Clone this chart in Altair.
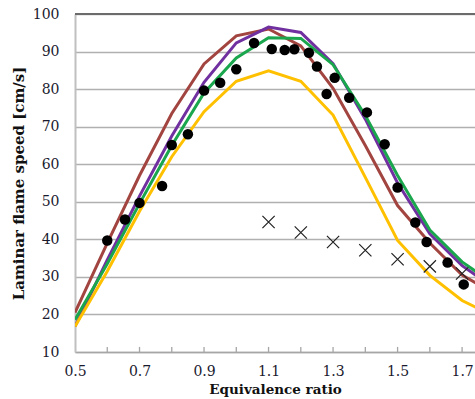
import altair as alt
import pandas as pd

# Model curves (equivalence ratio grid)
phi_grid = [0.5, 0.6, 0.7, 0.8, 0.9, 1.0, 1.1, 1.2, 1.3, 1.4, 1.5, 1.6, 1.7, 1.8]
brown = [20.5, 39.0, 57.0, 73.5, 86.7, 94.2, 96.0, 91.5, 80.2, 65.0, 49.0, 39.0, 30.5, 25.5]
purple = [16.8, 34.5, 51.5, 67.5, 81.8, 92.3, 96.5, 95.1, 86.8, 72.0, 55.0, 41.5, 33.0, 27.0]
green = [18.6, 33.5, 49.5, 65.0, 79.0, 88.3, 93.7, 93.5, 86.5, 73.0, 57.0, 42.5, 34.0, 28.0]
yellow = [16.8, 31.5, 47.5, 62.0, 74.0, 82.1, 84.9, 82.1, 73.1, 56.5, 39.7, 30.4, 23.7, 19.5]

series_names = ["brown", "purple", "green", "yellow"]
series_colors = ["#a2443f", "#7030a0", "#1aa64c", "#ffc000"]

# Experimental data (filled circles)
dot_phi = [0.6, 0.655, 0.7, 0.77, 0.8, 0.85, 0.9, 0.95, 1.0, 1.055, 1.11, 1.15, 1.18, 1.225,
           1.25, 1.28, 1.305, 1.35, 1.405, 1.46, 1.5, 1.555, 1.59, 1.655, 1.705]
dot_su = [39.7, 45.3, 49.7, 54.2, 65.1, 68.0, 79.6, 81.7, 85.3, 92.3, 90.7, 90.4, 90.6, 89.7,
          86.0, 78.7, 83.0, 77.7, 73.8, 65.3, 53.8, 44.5, 39.3, 33.8, 28.0]

# Other data (crosses)
x_phi = [1.1, 1.2, 1.3, 1.4, 1.5, 1.6, 1.7]
x_su = [44.6, 41.8, 39.3, 37.1, 34.7, 32.8, 30.9]

x_labels = [0.5, 0.7, 0.9, 1.1, 1.3, 1.5, 1.7]
x_minor = [0.6, 0.7, 0.8, 0.9, 1.0, 1.1, 1.2, 1.3, 1.4, 1.5, 1.6, 1.7]
y_ticks = [10, 20, 30, 40, 50, 60, 70, 80, 90, 100]

rows = []
for name, vals in zip(series_names, [brown, purple, green, yellow]):
    for p, v in zip(phi_grid, vals):
        rows.append({"phi": p, "su": v, "series": name})
lines_df = pd.DataFrame(rows)
dots_df = pd.DataFrame({"phi": dot_phi, "su": dot_su})
cross_df = pd.DataFrame({"phi": x_phi, "su": x_su})
minor_df = pd.DataFrame({"phi": x_minor})
top_df = pd.DataFrame({"y": [100]})

FONT = "DejaVu Serif"
xscale = alt.Scale(domain=[0.5, 1.74], nice=False, zero=False)
yscale = alt.Scale(domain=[10, 100], nice=False, zero=False)

xaxis = alt.Axis(values=x_labels, tickCount=20, format=".1f", grid=False, ticks=False,
                 domainColor="#a6a6a6", domainWidth=1.5, labelFont=FONT, labelFontSize=14,
                 labelColor="#1a1a2e", labelPadding=12, labelOverlap=False, labelBound=False,
                 labelFlush=False, title="Equivalence ratio", titleFont=FONT, titleFontSize=13.5,
                 titleFontWeight="bold", titleColor="#111111", titlePadding=4)
yaxis = alt.Axis(values=y_ticks, tickCount=20, grid=True, gridColor="#b0b0b0", gridWidth=1.3,
                 ticks=False, domainColor="#c0c0c0", domainWidth=2, labelFont=FONT,
                 labelFontSize=14, labelColor="#1a1a2e", labelPadding=16, labelOverlap=False,
                 labelBound=False, labelFlush=False, format="d",
                 title="Laminar flame speed [cm/s]",
                 titleFont=FONT, titleFontSize=15, titleFontWeight="bold", titleColor="#111111",
                 titlePadding=6)

top_rule = alt.Chart(top_df).mark_rule(color="#6b6b6b", strokeWidth=2).encode(
    y=alt.Y("y:Q", scale=yscale, axis=yaxis)
)

minor = alt.Chart(minor_df).mark_rule(color="#a6a6a6", strokeWidth=1.3).encode(
    x=alt.X("phi:Q", scale=xscale, axis=xaxis),
    y=alt.datum(10),
    y2=alt.datum(11.35),
)

lines = alt.Chart(lines_df).mark_line(strokeWidth=3, clip=True).encode(
    x=alt.X("phi:Q", scale=xscale, axis=xaxis),
    y=alt.Y("su:Q", scale=yscale, axis=yaxis),
    color=alt.Color("series:N", scale=alt.Scale(domain=series_names, range=series_colors), legend=None),
    order=alt.Order("phi:Q"),
)

dots = alt.Chart(dots_df).mark_point(filled=True, color="black", size=110, opacity=1, clip=True).encode(
    x=alt.X("phi:Q", scale=xscale, axis=xaxis),
    y=alt.Y("su:Q", scale=yscale, axis=yaxis),
)

crosses = alt.Chart(cross_df).mark_point(shape="M-1,-1L1,1M-1,1L1,-1", filled=False, color="#222222",
                                         strokeWidth=1.2, size=150, opacity=1, clip=True).encode(
    x=alt.X("phi:Q", scale=xscale, axis=xaxis),
    y=alt.Y("su:Q", scale=yscale, axis=yaxis),
)

chart = alt.layer(top_rule, minor, lines, dots, crosses).properties(
    width=400, height=338,
    autosize=alt.AutoSizeParams(type="none"),
    padding={"left": 75, "top": 14, "right": 0, "bottom": 47},
).configure_view(stroke=None).configure(background="white")

chart.save("out.html", embed_options={"renderer": "svg", "actions": False})
